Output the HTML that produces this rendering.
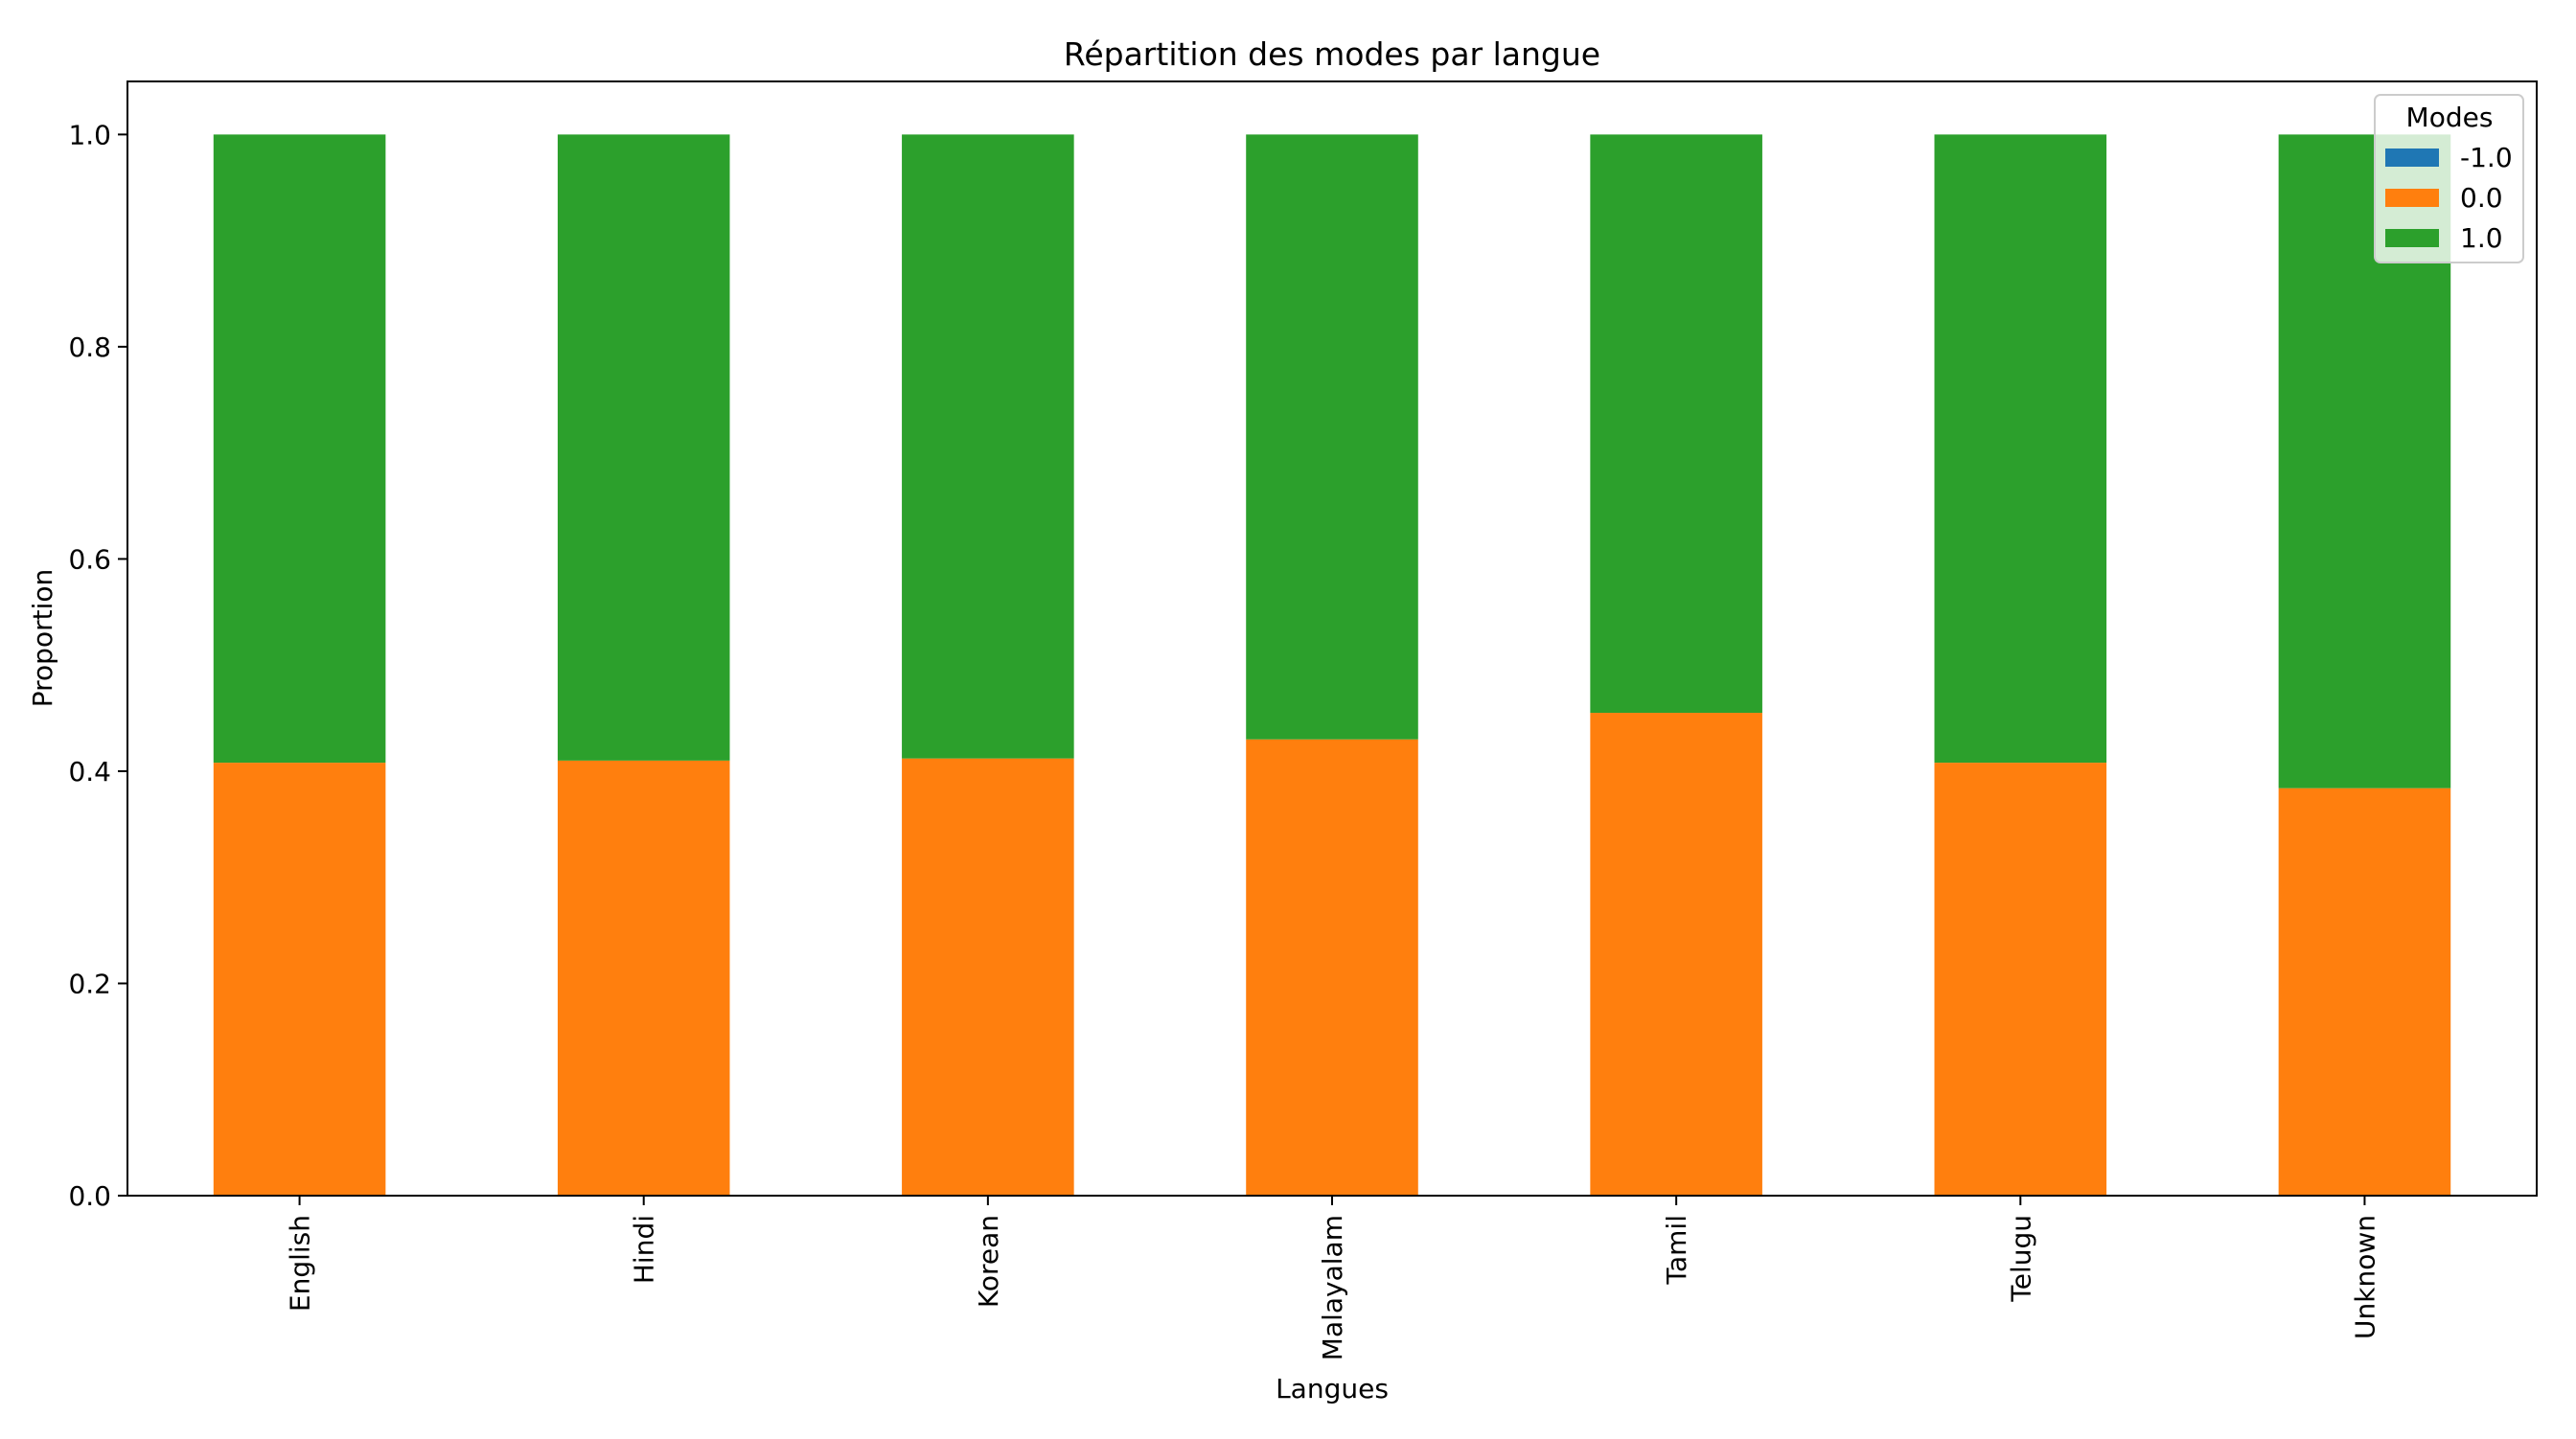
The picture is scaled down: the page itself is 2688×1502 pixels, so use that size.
<!DOCTYPE html>
<html><head><meta charset="utf-8">
<style>
html,body{margin:0;padding:0;background:#fff;}
svg{display:block;font-family:"DejaVu Sans","Liberation Sans",sans-serif;}
</style></head>
<body>
<svg id="chart" width="2688" height="1502" viewBox="0 0 2688 1502" xmlns="http://www.w3.org/2000/svg">
<rect width="2688" height="1502" fill="#fff"/>
<text x="1390" y="68" font-size="33" text-anchor="middle">Répartition des modes par langue</text>
<text x="0" y="0" font-size="28" text-anchor="middle" transform="translate(54,666) rotate(-90)">Proportion</text>
<text x="1390" y="1459" font-size="28" text-anchor="middle">Langues</text>
<g id="bars"></g>
<g id="axes"></g>
<g id="legend"></g>
</svg>
<script>
const categories = ["English","Hindi","Korean","Malayalam","Tamil","Telugu","Unknown"];
const modeNeg = [0,0,0,0,0,0,0];
const modeZero = [0.408,0.410,0.412,0.430,0.455,0.408,0.384];
const modeOne = [0.592,0.590,0.588,0.570,0.545,0.592,0.616];
const yTicks = [0.0,0.2,0.4,0.6,0.8,1.0];
const seriesNames = ["-1.0","0.0","1.0"];
const colors = ["#1f77b4","#ff7f0e","#2ca02c"];

const L=133,R=2647,T=85,B=1248;
const yMax=1.05;
const ns="http://www.w3.org/2000/svg";
const n=categories.length;
const xs=i=>L+(i+0.5)*(R-L)/n;
const ys=v=>B-v*(B-T)/yMax;
const bw=0.5*(R-L)/n;
function mk(tag,attrs,parent){const e=document.createElementNS(ns,tag);for(const k in attrs)e.setAttribute(k,attrs[k]);parent.appendChild(e);return e;}
const bars=document.getElementById('bars');
const series=[modeNeg,modeZero,modeOne];
categories.forEach((c,i)=>{
  let base=0;
  series.forEach((s,j)=>{
    const v=s[i];
    const r=mk('rect',{x:xs(i)-bw/2,y:ys(base+v),width:bw,height:Math.max(0,ys(base)-ys(base+v)),fill:colors[j]},bars);
    
    
    base+=v;
  });
});
const axes=document.getElementById('axes');
const frame=mk('rect',{x:L,y:T,width:R-L,height:B-T,fill:'none',stroke:'#000','stroke-width':2},axes);


yTicks.forEach(t=>{
  const y=ys(t);
  const tk=mk('line',{x1:L-10,x2:L,y1:y,y2:y,stroke:'#000','stroke-width':2},axes);
  
  
  const tx=mk('text',{x:L-17,y:y+10,'font-size':28,'text-anchor':'end'},axes);
  tx.textContent=t.toFixed(1);
  
  
});
categories.forEach((c,i)=>{
  const x=xs(i);
  const tk=mk('line',{x1:x,x2:x,y1:B,y2:B+10,stroke:'#000','stroke-width':2},axes);
  
  
  const tx=mk('text',{x:0,y:0,'font-size':28,'text-anchor':'end',transform:'translate('+(x+10)+','+(B+20)+') rotate(-90)'},axes);
  tx.textContent=c;
  
  
});
const lg=document.getElementById('legend');
const box=mk('rect',{x:2478,y:99,width:155,height:175,rx:6,fill:'rgba(255,255,255,0.8)',stroke:'#ccc','stroke-width':2},lg);


const lt=mk('text',{x:2556,y:132,'font-size':28,'text-anchor':'middle'},lg);
lt.textContent='Modes';


seriesNames.forEach((s,j)=>{
  const y=164+j*42;
  const p=mk('rect',{x:2489,y:y-9,width:56,height:19,fill:colors[j]},lg);
  
  
  const t=mk('text',{x:2567,y:y+10,'font-size':28},lg);
  t.textContent=s;
  
  
});
</script>
</body></html>
